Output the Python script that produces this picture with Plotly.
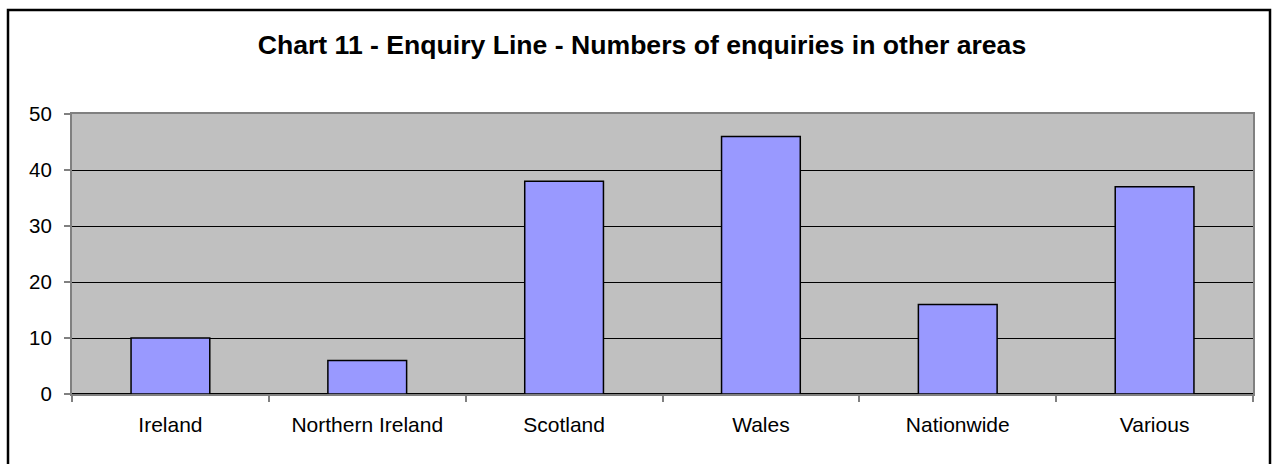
import plotly.graph_objects as go

categories = ["Ireland", "Northern Ireland", "Scotland", "Wales", "Nationwide", "Various"]
values = [10, 6, 38, 46, 16, 37]
y_ticks = [0, 10, 20, 30, 40, 50]
title_text = "Chart 11 - Enquiry Line - Numbers of enquiries in other areas"

W, H = 1272, 464
L, R, T, B = 72, 19, 114, 70
pw, ph = W - L - R, H - T - B

fig = go.Figure(go.Bar(
    x=categories, y=values, width=0.4,
    marker=dict(color="#9999FF", line=dict(color="black", width=1.5)),
))

def px_x(p):
    return (p - L) / pw

def px_y(p):
    return (H - B - p) / ph

fig.update_layout(
    width=W, height=H,
    margin=dict(l=L, r=R, t=T, b=B),
    paper_bgcolor="white",
    plot_bgcolor="#C0C0C0",
    font=dict(family="Liberation Sans, Arial, sans-serif", size=20, color="black"),
    title=dict(text="<b>" + title_text + "</b>", x=642 / W, xanchor="center",
               y=1 - 45 / H, yanchor="middle", font=dict(size=26.6, color="black")),
    showlegend=False,
    shapes=[dict(type="rect", xref="paper", yref="paper",
                 x0=px_x(8), x1=px_x(1270), y0=px_y(470), y1=px_y(10),
                 line=dict(color="black", width=2.5), fillcolor="rgba(0,0,0,0)",
                 layer="above")],
)
fig.update_xaxes(
    type="category", tickson="boundaries", ticks="outside", ticklen=6,
    tickcolor="#808080", tickwidth=1.5, showline=True, linecolor="#808080",
    linewidth=2, mirror=True, showgrid=False, ticklabelstandoff=11,
    tickfont=dict(size=21), fixedrange=True,
)
fig.update_yaxes(
    range=[0, 50], tickvals=y_ticks, ticks="outside", ticklen=6,
    tickcolor="#808080", tickwidth=1.5, showline=True, linecolor="#808080",
    linewidth=2, mirror=True, showgrid=True, gridcolor="black", gridwidth=1,
    zeroline=True, zerolinecolor="black", zerolinewidth=1.5,
    ticklabelstandoff=8, tickfont=dict(size=20.5), fixedrange=True,
)

fig.write_html("out.html", config={"displayModeBar": False})
